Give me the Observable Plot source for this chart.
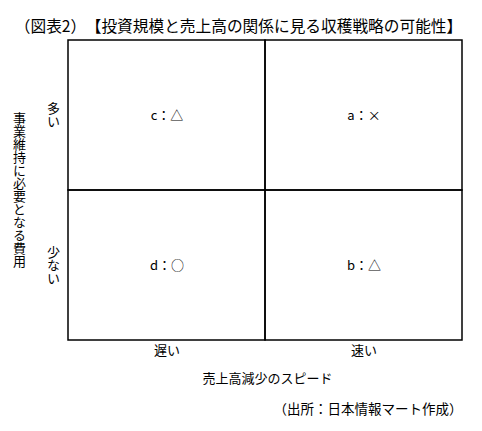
<!DOCTYPE html>
<html>
<head>
<meta charset="utf-8">
<script src="https://cdn.jsdelivr.net/npm/d3@7"></script>
<script src="https://cdn.jsdelivr.net/npm/@observablehq/plot@0.6"></script>
<style>
  html, body { margin: 0; padding: 0; background: #fff; }
</style>
</head>
<body>
<div id="chart"></div>
<script>
const titleNumber = "（図表2）";
const titleText = "【投資規模と売上高の関係に見る収穫戦略の可能性】";
const xTitle = "売上高減少のスピード";
const yTitle = "事業維持に必要となる費用";
const captionText = "（出所：日本情報マート作成）";

const speeds = ["遅い", "速い"];          // x categories (売上高減少のスピード)
const costs = ["多い", "少ない"];          // y categories (事業維持に必要となる費用), top to bottom

const cellSpeed = ["遅い", "速い", "遅い", "速い"];
const cellCost = ["多い", "多い", "少ない", "少ない"];
const cellLabel = ["c：△", "a：×", "d：○", "b：△"];

const cells = cellLabel.map((label, i) => ({speed: cellSpeed[i], cost: cellCost[i], label}));
const verticalTexts = new Set([...costs, yTitle]);

const chart = Plot.plot({
  width: 482,
  height: 431,
  marginLeft: 68,
  marginRight: 20,
  marginTop: 40,
  marginBottom: 91,
  style: {fontFamily: "'Noto Sans CJK JP', sans-serif", fontSize: "13px", background: "#fff", color: "#000"},
  x: {type: "band", domain: speeds, padding: 0, axis: null},
  y: {type: "band", domain: costs, padding: 0, axis: null},
  marks: [
    Plot.cell(cells, {x: "speed", y: "cost", fill: "none", stroke: "#000", strokeWidth: 1.5}),
    Plot.text(cells, {x: "speed", y: "cost", text: "label", fontSize: 13, fill: "#000"}),
    Plot.text(speeds, {x: d => d, text: d => d, frameAnchor: "bottom", dy: 14, fontSize: 13, fill: "#000"}),
    Plot.text(costs, {y: d => d, text: d => d, frameAnchor: "left", dx: -15, dy: -5, fontSize: 13, fill: "#000"}),
    Plot.text([xTitle], {text: d => d, frameAnchor: "bottom", dy: 42, dx: 2, fontSize: 13, fill: "#000"}),
    Plot.text([yTitle], {text: d => d, frameAnchor: "left", dx: -49, dy: -5, fontSize: 13, fill: "#000"}),
    Plot.text([titleNumber], {text: d => d, frameAnchor: "top-left", dx: -68 + 50, dy: -20, textAnchor: "middle", fontSize: 15.7, fill: "#000"}),
    Plot.text([titleText], {text: d => d, frameAnchor: "top-left", dx: -68 + 273.5, dy: -20, textAnchor: "middle", fontSize: 15.7, fill: "#000"}),
    Plot.text([captionText], {text: d => d, frameAnchor: "bottom-right", dy: 73, dx: 0, textAnchor: "end", fontSize: 13.5, fill: "#000"})
  ]
});

// Typeset the y-side labels vertically (縦書き), as in the reference.
chart.querySelectorAll("text").forEach(t => {
  if (verticalTexts.has(t.textContent)) {
    t.removeAttribute("dy");
    t.style.writingMode = "vertical-rl";
    t.style.textOrientation = "upright";
    t.setAttribute("text-anchor", "middle");
  }
});
document.getElementById("chart").appendChild(chart);
</script>
</body>
</html>
